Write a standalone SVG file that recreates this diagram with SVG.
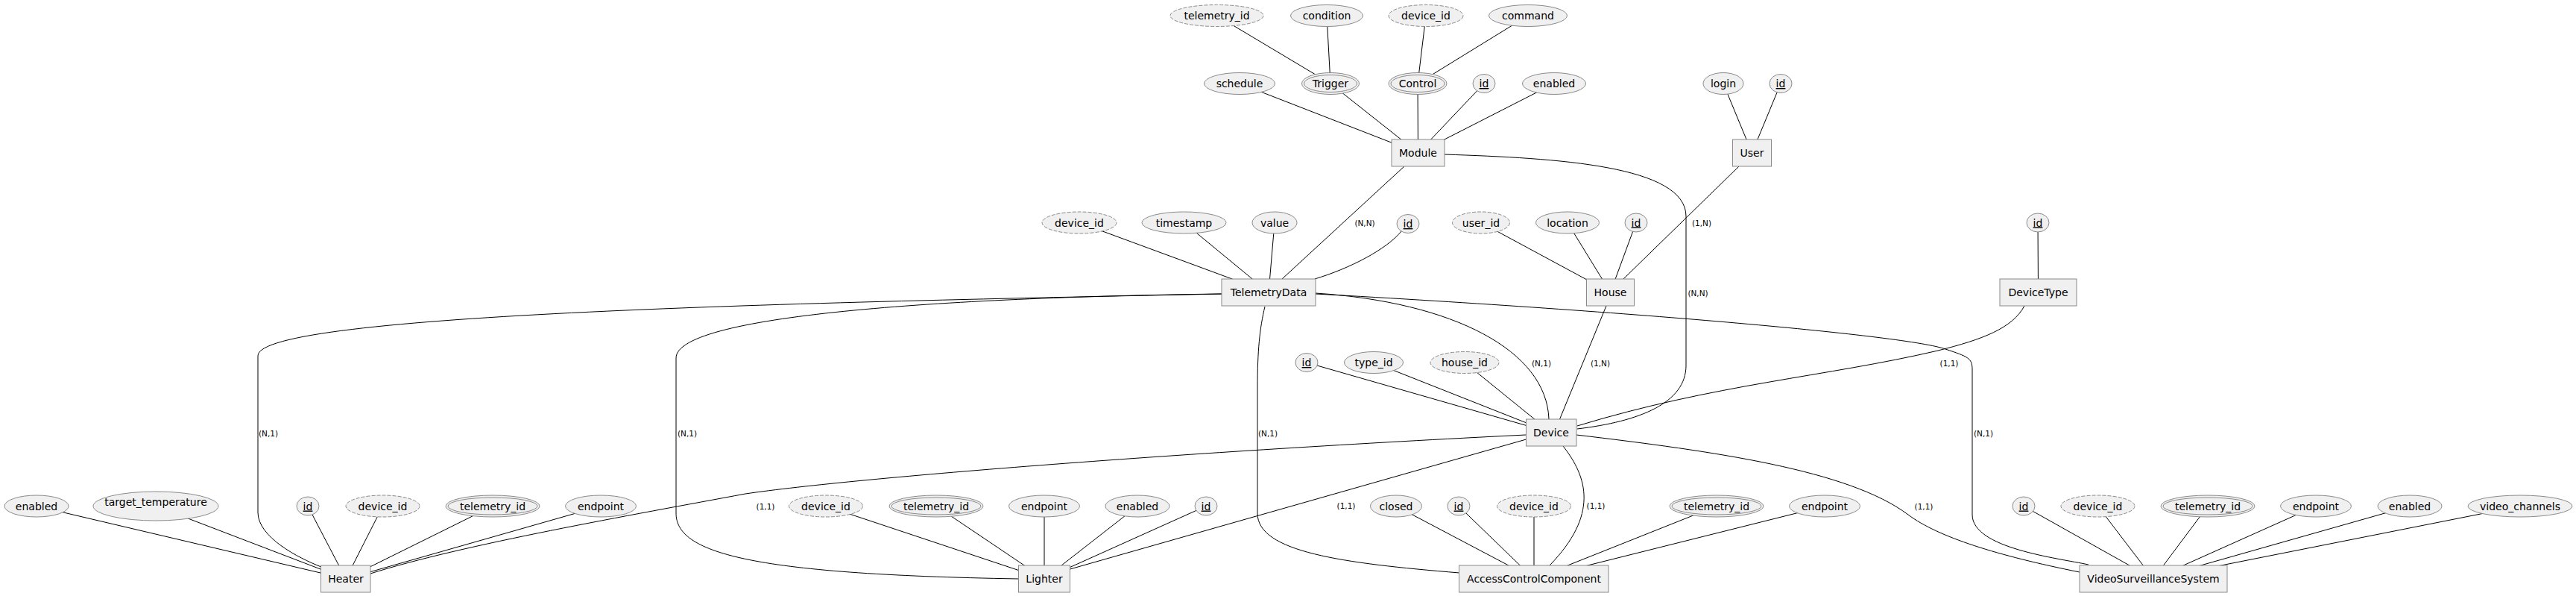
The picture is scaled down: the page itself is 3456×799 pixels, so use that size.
<svg xmlns="http://www.w3.org/2000/svg" width="3456" height="799" viewBox="0 0 3456 799">
<style>
.e{fill:#f0f0f0;stroke:#8a8a8a;stroke-width:1}
.d{stroke-dasharray:5,2}
.b{fill:#f0f0f0;stroke:#8a8a8a;stroke-width:1}
.c path{fill:none;stroke:#000;stroke-width:1}
text{font-family:"DejaVu Sans","Liberation Sans",sans-serif;font-size:14px;text-anchor:middle;fill:#000}
.l{font-size:10.5px}
.u{text-decoration:underline}
</style>
<rect width="3456" height="799" fill="#fff"/>
<g id="connectors" class="c">
<path d="M1632.5,21 L1785,112"/>
<path d="M1780,21 L1785,112"/>
<path d="M1913,21 L1902,112"/>
<path d="M2050,21 L1902,112"/>
<path d="M1663,112 L1902.5,205"/>
<path d="M1785,112 L1902.5,205"/>
<path d="M1902,112 L1902.5,205"/>
<path d="M1991,112 L1902.5,205"/>
<path d="M2085,112 L1902.5,205"/>
<path d="M2312,112 L2350.5,205"/>
<path d="M2389,112 L2350.5,205"/>
<path d="M1448,298.5 L1702,392"/>
<path d="M1588.5,298.5 L1702,392"/>
<path d="M1710,298.5 L1702,392"/>
<path d="M1881,309 C1860,335 1810,360 1764,374"/>
<path d="M1987,298.5 L2160.5,392"/>
<path d="M2103,298.5 L2160.5,392"/>
<path d="M2195,298.5 L2160.5,392"/>
<path d="M2734,298.5 L2734.5,392"/>
<path d="M1753,486 L2081,580"/>
<path d="M1843,486 L2081,580"/>
<path d="M1965,486 L2081,580"/>
<path d="M49,678.5 L464,776"/>
<path d="M209,678.5 L464,776"/>
<path d="M413,678.5 L464,776"/>
<path d="M513.5,678.5 L464,776"/>
<path d="M661,678.5 L464,776"/>
<path d="M806,678.5 L464,776"/>
<path d="M1108,678.5 L1401,776"/>
<path d="M1256,678.5 L1401,776"/>
<path d="M1401,678.5 L1401,776"/>
<path d="M1526,678.5 L1401,776"/>
<path d="M1618,678.5 L1401,776"/>
<path d="M1873,678.5 L2058,776"/>
<path d="M1957,678.5 L2058,776"/>
<path d="M2058,678.5 L2058,776"/>
<path d="M2303,678.5 L2058,776"/>
<path d="M2448,678.5 L2058,776"/>
<path d="M2715,678.5 L2889,776"/>
<path d="M2814.5,678.5 L2889,776"/>
<path d="M2962,678.5 L2889,776"/>
<path d="M3107,678.5 L2889,776"/>
<path d="M3233,678.5 L2889,776"/>
<path d="M3381,678.5 L2889,776"/>
<path d="M1884,223 L1720,374"/>
<path d="M2333,223 L2178,374"/>
<path d="M2155,410 L2092.5,562"/>
<path d="M1938,207 C2090,212 2262,222 2262,290 L2262,490 C2262,540 2200,565 2116,575"/>
<path d="M1639,394 C1100,405 346,420 346,477 L346,687 C346,720 400,748 431,760"/>
<path d="M1639,394 C1300,398 907,420 907,480 L907,688 C907,740 1000,770 1367,776"/>
<path d="M1697,411 C1690,440 1687,470 1687,520 L1687,688 C1687,740 1800,755 1958,768"/>
<path d="M1765,393 C1950,405 2075,470 2078,562"/>
<path d="M1765,394 C2200,418 2560,450 2610,468 C2640,478 2646,480 2646,495 L2646,690 C2646,735 2760,748 2802,757"/>
<path d="M2716,410 C2700,440 2660,455 2600,470 C2450,505 2300,515 2116,571"/>
<path d="M2047,583 C1600,605 1150,640 1000,662 C850,690 620,730 497,769"/>
<path d="M2047.5,589 L1435.6,763"/>
<path d="M2097,598 C2130,640 2145,690 2079,758"/>
<path d="M2115,583 C2300,605 2480,630 2560,690 C2600,720 2680,745 2790,767"/>
<text class="l" x="1831" y="303">(N,N)</text>
<text class="l" x="2283" y="303">(1,N)</text>
<text class="l" x="2278" y="397">(N,N)</text>
<text class="l" x="2068" y="491">(N,1)</text>
<text class="l" x="2147" y="491">(1,N)</text>
<text class="l" x="2615" y="491">(1,1)</text>
<text class="l" x="360" y="585">(N,1)</text>
<text class="l" x="922" y="585">(N,1)</text>
<text class="l" x="1701" y="585">(N,1)</text>
<text class="l" x="2661" y="585">(N,1)</text>
<text class="l" x="1027" y="683">(1,1)</text>
<text class="l" x="1806" y="682">(1,1)</text>
<text class="l" x="2141" y="682">(1,1)</text>
<text class="l" x="2581" y="683">(1,1)</text>
</g>
<g id="trigger_telemetry_id"><ellipse class="e d" cx="1632.5" cy="21" rx="62.5" ry="14.5"/><text x="1632.5" y="26">telemetry_id</text></g>
<g id="trigger_condition"><ellipse class="e" cx="1780" cy="21" rx="48.5" ry="14.5"/><text x="1780" y="26">condition</text></g>
<g id="control_device_id"><ellipse class="e d" cx="1913" cy="21" rx="50" ry="14.5"/><text x="1913" y="26">device_id</text></g>
<g id="control_command"><ellipse class="e" cx="2050" cy="21" rx="52.5" ry="14.5"/><text x="2050" y="26">command</text></g>
<g id="module_schedule"><ellipse class="e" cx="1663" cy="112" rx="47.5" ry="14.5"/><text x="1663" y="117">schedule</text></g>
<g id="trigger"><ellipse class="e" cx="1785" cy="112" rx="38.5" ry="14.5"/><ellipse class="e" cx="1785" cy="112" rx="35.5" ry="11.5"/><text x="1785" y="117">Trigger</text></g>
<g id="control"><ellipse class="e" cx="1902" cy="112" rx="39" ry="14.5"/><ellipse class="e" cx="1902" cy="112" rx="36" ry="11.5"/><text x="1902" y="117">Control</text></g>
<g id="module_id"><ellipse class="e" cx="1991" cy="112" rx="15" ry="12.5"/><text class="u" x="1991" y="117">id</text></g>
<g id="module_enabled"><ellipse class="e" cx="2085" cy="112" rx="42.5" ry="14.5"/><text x="2085" y="117">enabled</text></g>
<g id="user_login"><ellipse class="e" cx="2312" cy="112" rx="27" ry="14.5"/><text x="2312" y="117">login</text></g>
<g id="user_id"><ellipse class="e" cx="2389" cy="112" rx="15" ry="12.5"/><text class="u" x="2389" y="117">id</text></g>
<g id="module"><rect class="b" x="1867" y="187" width="71" height="36"/><text x="1902.5" y="210">Module</text></g>
<g id="user"><rect class="b" x="2324.5" y="187" width="52" height="36"/><text x="2350.5" y="210">User</text></g>
<g id="td_device_id"><ellipse class="e d" cx="1448" cy="298.5" rx="50" ry="14.5"/><text x="1448" y="303.5">device_id</text></g>
<g id="td_timestamp"><ellipse class="e" cx="1588.5" cy="298.5" rx="56.5" ry="14.5"/><text x="1588.5" y="303.5">timestamp</text></g>
<g id="td_value"><ellipse class="e" cx="1710" cy="298.5" rx="30" ry="14.5"/><text x="1710" y="303.5">value</text></g>
<g id="td_id"><ellipse class="e" cx="1889" cy="300" rx="15" ry="12.5"/><text class="u" x="1889" y="305">id</text></g>
<g id="house_user_id"><ellipse class="e d" cx="1987" cy="298.5" rx="38.5" ry="14.5"/><text x="1987" y="303.5">user_id</text></g>
<g id="house_location"><ellipse class="e" cx="2103" cy="298.5" rx="42.5" ry="14.5"/><text x="2103" y="303.5">location</text></g>
<g id="house_id"><ellipse class="e" cx="2195" cy="298.5" rx="15" ry="12.5"/><text class="u" x="2195" y="303.5">id</text></g>
<g id="devicetype_id"><ellipse class="e" cx="2734" cy="298.5" rx="15" ry="12.5"/><text class="u" x="2734" y="303.5">id</text></g>
<g id="telemetrydata"><rect class="b" x="1639" y="374" width="126" height="36"/><text x="1702" y="397">TelemetryData</text></g>
<g id="house"><rect class="b" x="2128.5" y="374" width="64" height="36"/><text x="2160.5" y="397">House</text></g>
<g id="devicetype"><rect class="b" x="2683" y="374" width="103" height="36"/><text x="2734.5" y="397">DeviceType</text></g>
<g id="device_id_attr"><ellipse class="e" cx="1753" cy="486" rx="15" ry="12.5"/><text class="u" x="1753" y="491">id</text></g>
<g id="device_type_id"><ellipse class="e" cx="1843" cy="486" rx="39.5" ry="14.5"/><text x="1843" y="491">type_id</text></g>
<g id="device_house_id"><ellipse class="e d" cx="1965" cy="486" rx="46" ry="14.5"/><text x="1965" y="491">house_id</text></g>
<g id="device"><rect class="b" x="2047.5" y="562" width="67.5" height="36"/><text x="2081" y="585">Device</text></g>
<g id="heater_enabled"><ellipse class="e" cx="49" cy="678.5" rx="43" ry="14.5"/><text x="49" y="683.5">enabled</text></g>
<g id="heater_target_temperature"><ellipse class="e" cx="209" cy="678.5" rx="84" ry="19.5"/><text x="209" y="678">target_temperature</text></g>
<g id="heater_id"><ellipse class="e" cx="413" cy="678.5" rx="15" ry="12.5"/><text class="u" x="413" y="683.5">id</text></g>
<g id="heater_device_id"><ellipse class="e d" cx="513.5" cy="678.5" rx="49.5" ry="14.5"/><text x="513.5" y="683.5">device_id</text></g>
<g id="heater_telemetry_id"><ellipse class="e" cx="661" cy="678.5" rx="63" ry="14.5"/><ellipse class="e" cx="661" cy="678.5" rx="60" ry="11.5"/><text x="661" y="683.5">telemetry_id</text></g>
<g id="heater_endpoint"><ellipse class="e" cx="806" cy="678.5" rx="47.5" ry="14.5"/><text x="806" y="683.5">endpoint</text></g>
<g id="lighter_device_id"><ellipse class="e d" cx="1108" cy="678.5" rx="49.5" ry="14.5"/><text x="1108" y="683.5">device_id</text></g>
<g id="lighter_telemetry_id"><ellipse class="e" cx="1256" cy="678.5" rx="63" ry="14.5"/><ellipse class="e" cx="1256" cy="678.5" rx="60" ry="11.5"/><text x="1256" y="683.5">telemetry_id</text></g>
<g id="lighter_endpoint"><ellipse class="e" cx="1401" cy="678.5" rx="47.5" ry="14.5"/><text x="1401" y="683.5">endpoint</text></g>
<g id="lighter_enabled"><ellipse class="e" cx="1526" cy="678.5" rx="43" ry="14.5"/><text x="1526" y="683.5">enabled</text></g>
<g id="lighter_id"><ellipse class="e" cx="1618" cy="678.5" rx="15" ry="12.5"/><text class="u" x="1618" y="683.5">id</text></g>
<g id="acc_closed"><ellipse class="e" cx="1873" cy="678.5" rx="34.5" ry="14.5"/><text x="1873" y="683.5">closed</text></g>
<g id="acc_id"><ellipse class="e" cx="1957" cy="678.5" rx="15" ry="12.5"/><text class="u" x="1957" y="683.5">id</text></g>
<g id="acc_device_id"><ellipse class="e d" cx="2058" cy="678.5" rx="49.5" ry="14.5"/><text x="2058" y="683.5">device_id</text></g>
<g id="acc_telemetry_id"><ellipse class="e" cx="2303" cy="678.5" rx="63" ry="14.5"/><ellipse class="e" cx="2303" cy="678.5" rx="60" ry="11.5"/><text x="2303" y="683.5">telemetry_id</text></g>
<g id="acc_endpoint"><ellipse class="e" cx="2448" cy="678.5" rx="47.5" ry="14.5"/><text x="2448" y="683.5">endpoint</text></g>
<g id="vss_id"><ellipse class="e" cx="2715" cy="678.5" rx="15" ry="12.5"/><text class="u" x="2715" y="683.5">id</text></g>
<g id="vss_device_id"><ellipse class="e d" cx="2814.5" cy="678.5" rx="49.5" ry="14.5"/><text x="2814.5" y="683.5">device_id</text></g>
<g id="vss_telemetry_id"><ellipse class="e" cx="2962" cy="678.5" rx="63" ry="14.5"/><ellipse class="e" cx="2962" cy="678.5" rx="60" ry="11.5"/><text x="2962" y="683.5">telemetry_id</text></g>
<g id="vss_endpoint"><ellipse class="e" cx="3107" cy="678.5" rx="47.5" ry="14.5"/><text x="3107" y="683.5">endpoint</text></g>
<g id="vss_enabled"><ellipse class="e" cx="3233" cy="678.5" rx="43" ry="14.5"/><text x="3233" y="683.5">enabled</text></g>
<g id="vss_video_channels"><ellipse class="e" cx="3381" cy="678.5" rx="70" ry="14.5"/><text x="3381" y="683.5">video_channels</text></g>
<g id="heater"><rect class="b" x="430.5" y="758" width="66.5" height="36"/><text x="464" y="781">Heater</text></g>
<g id="lighter"><rect class="b" x="1366.5" y="758" width="69" height="36"/><text x="1401" y="781">Lighter</text></g>
<g id="accesscontrolcomponent"><rect class="b" x="1957.5" y="758" width="200.5" height="36"/><text x="2058" y="781">AccessControlComponent</text></g>
<g id="videosurveillancesystem"><rect class="b" x="2790" y="758" width="198" height="36"/><text x="2889" y="781">VideoSurveillanceSystem</text></g>
</svg>
